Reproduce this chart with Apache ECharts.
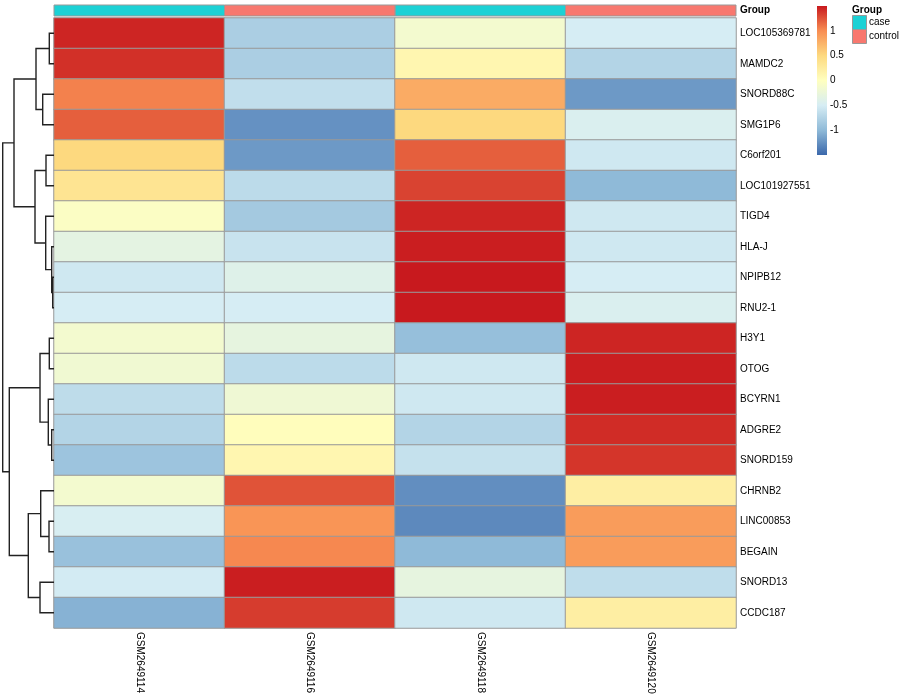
<!DOCTYPE html>
<html><head><meta charset="utf-8">
<script src="https://cdn.jsdelivr.net/npm/echarts@6/dist/echarts.min.js"></script>
<style>html,body{margin:0;padding:0;background:#fff}#c{width:900px;height:700px}</style>
</head><body><div id="c"></div>
<script>
// ---- data ----
const samples = ['GSM2649114','GSM2649116','GSM2649118','GSM2649120'];
const groups = ['case','control','case','control'];
const groupNames = ['case','control'];
const groupColors = ['#1CD1D5','#F8786F'];
const genes = ['LOC105369781','MAMDC2','SNORD88C','SMG1P6','C6orf201','LOC101927551','TIGD4','HLA-J','NPIPB12','RNU2-1',
  'H3Y1','OTOG','BCYRN1','ADGRE2','SNORD159','CHRNB2','LINC00853','BEGAIN','SNORD13','CCDC187'];
// row-scaled expression (z-scores), one array per sample, in gene order
const s114 = [1.45,1.4,1.05,1.2,0.5,0.35,-0.05,-0.33,-0.55,-0.5,-0.15,-0.18,-0.67,-0.75,-0.9,-0.15,-0.48,-0.93,-0.52,-1.05];
const s116 = [-0.8,-0.8,-0.65,-1.25,-1.2,-0.68,-0.85,-0.6,-0.4,-0.5,-0.3,-0.68,-0.2,0.02,0.12,1.25,0.95,1.02,1.48,1.35];
const s118 = [-0.15,0.12,0.8,0.5,1.2,1.32,1.45,1.48,1.5,1.5,-0.95,-0.55,-0.55,-0.75,-0.62,-1.27,-1.3,-1.0,-0.3,-0.55];
const s120 = [-0.5,-0.75,-1.2,-0.45,-0.55,-1.0,-0.55,-0.55,-0.5,-0.45,1.45,1.48,1.48,1.42,1.38,0.22,0.9,0.9,-0.66,0.22];
const sampleValues = [s114, s116, s118, s120];
const scaleMin = -1.5, scaleMax = 1.5;
const paletteColors = ['#3B68AB','#8FBAD8','#D6EDF4','#FFFFBF','#FDD97F','#F88D52','#C8191E'];
const legendTicks = [-1, -0.5, 0, 0.5, 1];
// hclust-style merges: negative = leaf (-(row+1)), positive = earlier merge (1-based); third = height
const dendroMerges = [
  [-9,-10,1.3],[-8,1,2.3],[-7,2,8.3],[-5,-6,8],[4,3,19],
  [-1,-2,4.7],[-3,-4,11.3],[6,7,18],[8,5,40],
  [-11,-12,4.7],[-14,-15,2.3],[-13,11,5.7],[10,12,14],
  [-17,-18,5],[-16,14,13.3],[-19,-20,14],[15,16,25.7],[13,17,44.7],[9,18,51.3]
];

// ---- build ----
const FONT = "'Liberation Sans', Arial, Helvetica, sans-serif";
const heatData = [];
sampleValues.forEach((arr, si) => arr.forEach((v, gi) => heatData.push([si, gi, v])));

const mergePos = [], mergeH = [];
function nodeInfo(ref) {
  if (ref < 0) return { y: -ref - 1, h: 0 };
  return { y: mergePos[ref - 1], h: mergeH[ref - 1] };
}
const dendroData = dendroMerges.map(m => {
  const a = nodeInfo(m[0]), b = nodeInfo(m[1]);
  mergePos.push((a.y + b.y) / 2); mergeH.push(m[2]);
  return [a.h, a.y, m[2], b.y, b.h];
});

const L = 54, W = 682, T = 18, H = 610;
const chart = echarts.init(document.getElementById('c'), null, { renderer: 'canvas' });
const annoSeries = groupNames.map((g, k) => ({
  type: 'custom', name: g, xAxisIndex: 1, yAxisIndex: 1,
  itemStyle: { color: groupColors[k] },
  data: groups.map((gg, i) => gg === g ? [i, 0] : null).filter(d => d),
  renderItem: (params, api) => {
    const c = api.coord([api.value(0), api.value(1)]);
    const s = api.size([1, 1]);
    return { type: 'rect', shape: { x: c[0] - s[0] / 2, y: c[1] - s[1] / 2, width: s[0], height: s[1] },
      style: { fill: api.visual('color'), stroke: '#999', lineWidth: 1 } };
  }
}));

chart.setOption({
  animation: false,
  textStyle: { fontFamily: FONT },
  grid: [
    { left: L, top: T, width: W, height: H },
    { left: L, top: 5, width: W, height: 11 },
    { left: 0, top: T, width: L, height: H },
    { left: 817, top: 6, width: 10, height: 149 }
  ],
  xAxis: [
    { type: 'category', data: samples, gridIndex: 0, position: 'bottom',
      axisLine: { show: false }, axisTick: { show: false }, splitLine: { show: false },
      axisLabel: { rotate: -90, margin: 4, fontSize: 10, color: '#000', fontFamily: FONT } },
    { type: 'category', data: samples, gridIndex: 1, show: false },
    { type: 'value', gridIndex: 2, min: 0, max: 54, inverse: true, show: false },
    { type: 'value', gridIndex: 3, min: 0, max: 1, show: false }
  ],
  yAxis: [
    { type: 'category', data: genes, gridIndex: 0, inverse: true, position: 'right',
      axisLine: { show: false }, axisTick: { show: false }, splitLine: { show: false },
      axisLabel: { margin: 4, fontSize: 10, color: '#000', fontFamily: FONT } },
    { type: 'category', data: ['Group'], gridIndex: 1, position: 'right',
      axisLine: { show: false }, axisTick: { show: false },
      axisLabel: { margin: 4, fontSize: 10, fontWeight: 'bold', color: '#000', fontFamily: FONT } },
    { type: 'value', gridIndex: 2, min: -0.5, max: genes.length - 0.5, inverse: true, show: false },
    { type: 'value', gridIndex: 3, min: scaleMin, max: scaleMax, interval: 0.5, position: 'right',
      axisLine: { show: false }, axisTick: { show: false }, splitLine: { show: false },
      axisLabel: { margin: 3, fontSize: 10, color: '#000', fontFamily: FONT,
        formatter: v => legendTicks.indexOf(v) >= 0 ? String(v) : '' } }
  ],
  visualMap: {
    type: 'continuous', show: false, seriesIndex: 0, min: scaleMin, max: scaleMax,
    inRange: { color: paletteColors }
  },
  graphic: [
    { type: 'text', left: 852, top: 5, style: { text: 'Group', font: 'bold 10px ' + FONT, fill: '#000' } },
    ...groupNames.map((g, k) => ({ type: 'rect', shape: { x: 852.5, y: 15.5 + 14 * k, width: 14, height: 14 },
      style: { fill: groupColors[k], stroke: '#999', lineWidth: 1 } })),
    ...groupNames.map((g, k) => ({ type: 'text', x: 869, y: 22.5 + 14 * k,
      style: { text: g, font: '10px ' + FONT, fill: '#000', textVerticalAlign: 'middle' } }))
  ],
  series: [
    { type: 'heatmap', xAxisIndex: 0, yAxisIndex: 0, data: heatData,
      itemStyle: { borderColor: '#999', borderWidth: 1 }, emphasis: { disabled: true }, label: { show: false } },
    ...annoSeries,
    { type: 'custom', xAxisIndex: 2, yAxisIndex: 2, data: dendroData, silent: true,
      renderItem: (params, api) => {
        const p1 = api.coord([api.value(0), api.value(1)]);
        const p2 = api.coord([api.value(2), api.value(1)]);
        const p3 = api.coord([api.value(2), api.value(3)]);
        const p4 = api.coord([api.value(4), api.value(3)]);
        return { type: 'polyline', shape: { points: [p1, p2, p3, p4] },
          style: { stroke: '#222', lineWidth: 1.4, fill: null } };
      } },
    { type: 'custom', xAxisIndex: 3, yAxisIndex: 3, data: [[0, scaleMax, 1, scaleMin]], silent: true,
      renderItem: (params, api) => {
        const a = api.coord([api.value(0), api.value(1)]);
        const b = api.coord([api.value(2), api.value(3)]);
        const n = paletteColors.length;
        const stops = paletteColors.map((c, i) => ({ offset: 1 - i / (n - 1), color: c })).reverse();
        return { type: 'rect', shape: { x: a[0], y: a[1], width: b[0] - a[0], height: b[1] - a[1] },
          style: { fill: new echarts.graphic.LinearGradient(0, 0, 0, 1, stops) } };
      } }
  ]
});
</script></body></html>
